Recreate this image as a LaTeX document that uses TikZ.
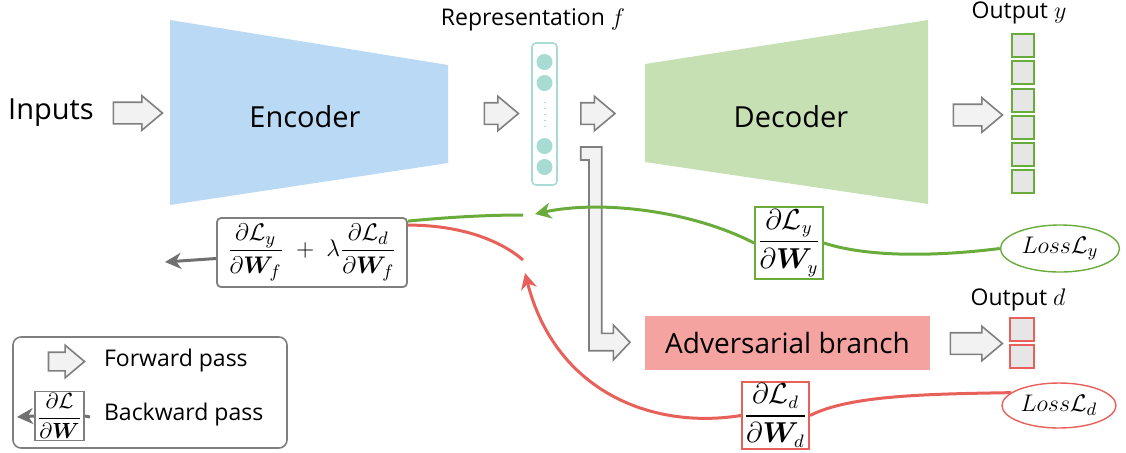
\documentclass[tikz,border=0pt]{standalone}
\usepackage{amsmath}
\usepackage{bm}
\usepackage{fontspec}
\setmainfont{Open Sans}
\usetikzlibrary{arrows.meta,shapes.arrows,shapes.geometric}
\definecolor{encblue}{HTML}{B9D9F5}
\definecolor{decgreen}{HTML}{C6E0B4}
\definecolor{advpink}{HTML}{F5A3A0}
\definecolor{featteal}{HTML}{A8DCD2}
\definecolor{lossgreen}{HTML}{6AAC3C}
\definecolor{lossred}{HTML}{E8605A}
\definecolor{arrowfill}{HTML}{F2F2F2}
\definecolor{arrowgray}{HTML}{7F7F7F}
\definecolor{backgray}{HTML}{707070}
\definecolor{cellgray}{HTML}{E6E6E6}
\begin{document}
\begin{tikzpicture}[
		x=0.5pt, y=-0.5pt,
		fwd/.style = {
			draw=arrowgray,
			fill=arrowfill,
			line width=0.8pt
		},
		fwdarrow/.style = {
			fwd,
			single arrow,
			single arrow tip angle=80,
			single arrow head extend=3.25pt,
			inner xsep=0pt,
			inner ysep=5pt,
			minimum width=16.5pt,
			minimum height=#1
		},
		grad/.style = {
			draw,
			fill=white,
			line width=0.9pt,
			inner sep=1pt,
			font=\fontsize{13.5}{16}\selectfont
		},
		loss/.style = {
			ellipse,
			draw,
			fill=white,
			line width=0.7pt,
			inner sep=0pt,
			font=\fontsize{13}{15}\selectfont
		},
		back/.style = {
			line width=1.5pt,
			-{Stealth[length=8pt,width=8pt,inset=2.5pt]}
		},
		cell/.style = {
			draw,
			fill=cellgray,
			line width=1pt,
			minimum width=11pt,
			minimum height=11.5pt,
			inner sep=0pt
		},
		big/.style = {font=\fontsize{14.5}{17}\selectfont},
		lbl/.style = {font=\fontsize{11.5}{14}\selectfont}
	]
	\useasboundingbox (0,0) rectangle (1126,452);

	% encoder, representation, decoder
	\fill[encblue]  (170,20) -- (448,65) -- (448,163) -- (170,205) -- cycle;
	\fill[decgreen] (645,64) -- (928,20) -- (928,204) -- (645,162) -- cycle;
	\node[big] (inp) at (51,113)  {Inputs};
	\node[big] (enc) at (305,117) {Encoder};
	\node[big] (dec) at (791,117) {Decoder};

	\node[draw=featteal, rounded corners=2pt, line width=0.8pt,
		minimum width=12.5pt, minimum height=71pt] (rep) at (544.5,114) {};
	\node[lbl] (replbl) at (533,20) {Representation $f$};
	\foreach \yy in {62,83,146,167}
		\fill[featteal] (544.5,\yy) circle[radius=4pt];
	\draw[featteal, line width=1pt, dash pattern=on 0.6pt off 2.4pt] (544.5,102) -- (544.5,127);

	% forward arrows
	\node[fwdarrow=24.5pt] (a1) at (131.5,113) {};
	\node[fwdarrow=17pt]   (a2) at (495,113.5) {};
	\node[fwdarrow=17pt]   (a3) at (591.5,113.5) {};
	\node[fwdarrow=24.5pt] (a4) at (971.5,115) {};
	\node[fwdarrow=26pt]   (a5) at (970,343.5) {};
	\draw[fwd] (580.7,147) -- (601.7,147) -- (601.7,333.3) -- (613.3,333.3) -- (613.3,325)
		-- (630,342.3) -- (613.3,360) -- (613.3,350.7) -- (589,350.7) -- (589,160)
		-- (580.7,160) -- cycle;

	% outputs
	\node[lbl] (ylbl) at (1019,13) {Output $y$};
	\foreach \i in {0,...,5}
		\node[cell, draw=lossgreen] (y\i) at (1023,45.6+27.2*\i) {};
	\node[fill=advpink, minimum width=142.5pt, minimum height=27pt,
		font=\fontsize{14}{17}\selectfont] (adv) at (787.5,343) {Adversarial branch};
	\node[lbl] (dlbl) at (1018,300) {Output $d$};
	\node[cell, draw=lossred, minimum width=12pt] (d0) at (1022,329.5) {};
	\node[cell, draw=lossred, minimum width=12pt] (d1) at (1022,356)   {};

	% losses and gradients
	\node[loss, draw=lossgreen, minimum width=59.5pt, minimum height=23.5pt] (ly) at (1060,248.5) {$Loss\mathcal{L}_y$};
	\node[loss, draw=lossred,   minimum width=57pt,   minimum height=22.5pt] (ld) at (1059,405.5) {$Loss\mathcal{L}_d$};
	\node[grad, draw=lossgreen, minimum width=34pt, minimum height=36pt] (gy) at (789,243) {$\dfrac{\partial\mathcal{L}_y}{\partial\bm{W}_y}$};
	\node[grad, draw=lossred, minimum width=32.5pt, minimum height=32.5pt] (gd) at (775.5,415.5) {$\dfrac{\partial\mathcal{L}_d}{\partial\bm{W}_d}$};
	\node[grad, draw=arrowgray, rounded corners=2pt, minimum width=95pt, minimum height=34.5pt,
		font=\fontsize{12.5}{15}\selectfont] (sum) at (312,252.5)
		{$\dfrac{\partial\mathcal{L}_y}{\partial\bm{W}_f} \;+\; \lambda\dfrac{\partial\mathcal{L}_d}{\partial\bm{W}_f}$};

	\coordinate (gtip)  at (535,214);
	\coordinate (gjoin) at (523,215);
	\coordinate (rtip)  at (525,273);
	\coordinate (rjoin) at (523,260);
	\coordinate (ftip)  at (165,262);

	\draw[lossgreen, line width=1.5pt] (ly.west) .. controls (940,256) and (870,258) .. (gy.east);
	\draw[back, lossgreen] (gy.west) .. controls (690,210) and (600,200) .. (gtip);
	\draw[lossgreen, line width=1.5pt] (gjoin) .. controls (480,215) and (440,218) .. ([yshift=-2pt]sum.north east);
	\draw[lossred, line width=1.5pt] (ld.165) .. controls (930,394) and (850,395) .. (gd.east);
	\draw[back, lossred] (gd.west) .. controls (650,430) and (555,390) .. (rtip);
	\draw[lossred, line width=1.5pt] ([yshift=-4pt]sum.north east) .. controls (460,225) and (500,240) .. (rjoin);
	\draw[back, backgray] ([yshift=-3pt]sum.west) -- (ftip);

	% legend
	\node[draw=arrowgray, rounded corners=4pt, line width=0.8pt,
		minimum width=137pt, minimum height=55.5pt] (legend) at (150,392.5) {};
	\node[fwdarrow=18pt, minimum width=15.5pt, inner ysep=4.25pt, single arrow head extend=3.5pt] (lf) at (61,361.5) {};
	\node[lbl, anchor=west] (lflbl) at (97,361) {Forward pass};
	\node[grad, draw=arrowgray, line width=0.8pt, inner sep=1pt, minimum size=23.5pt,
		font=\fontsize{11}{13}\selectfont] (bk) at (59.5,416) {$\dfrac{\partial\mathcal{L}}{\partial\bm{W}}$};
	\coordinate (bktip) at (17,417);
	\coordinate (bkin)  at (90,417);
	\draw[back, backgray] (bk.west) -- (bktip);
	\draw[backgray, line width=1.5pt] (bkin) -- (bk.east);
	\node[lbl, anchor=west] (lblbl) at (97,415) {Backward pass};
\end{tikzpicture}
\end{document}
